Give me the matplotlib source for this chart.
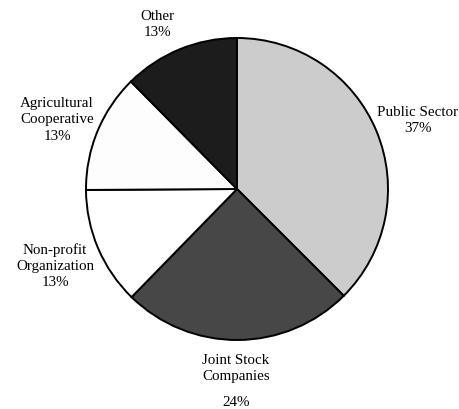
import matplotlib.pyplot as plt

# wedge sizes as drawn (degrees, in percent)
sectors = ['Public Sector', 'Joint Stock\nCompanies', 'Non-profit\nOrganization',
           'Agricultural\nCooperative', 'Other']
sizes = [37.5, 24.8, 12.6, 12.7, 12.4]
pct_labels = ['37%', '24%', '13%', '13%', '13%']
colors = ['#cccccc', '#474747', '#ffffff', '#fdfdfd', '#1c1c1c']

plt.rcParams['font.family'] = ['Liberation Serif', 'DejaVu Serif']

fig = plt.figure(figsize=(4.6, 4.1), dpi=100)
ax = fig.add_axes([0, 0, 1, 1])

ax.pie(sizes, colors=colors, startangle=90, counterclock=False,
       center=(237, 220), radius=151, frame=True,
       wedgeprops=dict(edgecolor='black', linewidth=1.4))
ax.set_xlim(0, 460)
ax.set_ylim(0, 410)
ax.set_aspect('equal')
ax.axis('off')

# label positions in pixel coords (x, y from top)
label_pos = [(418, 121), (236, 369), (55, 266), (57, 120), (157, 24)]
fs = 10.8
for name, pct, (x, y) in zip(sectors, pct_labels, label_pos):
    if name.startswith('Joint'):
        ax.text(x, 410 - y, name, ha='center', va='center', fontsize=fs, linespacing=1.3)
        ax.text(x, 410 - 403, pct, ha='center', va='center', fontsize=fs)
    else:
        ax.text(x, 410 - y, name + '\n' + pct, ha='center', va='center',
                fontsize=fs, linespacing=1.3)

fig.savefig('out.png', dpi=100)
